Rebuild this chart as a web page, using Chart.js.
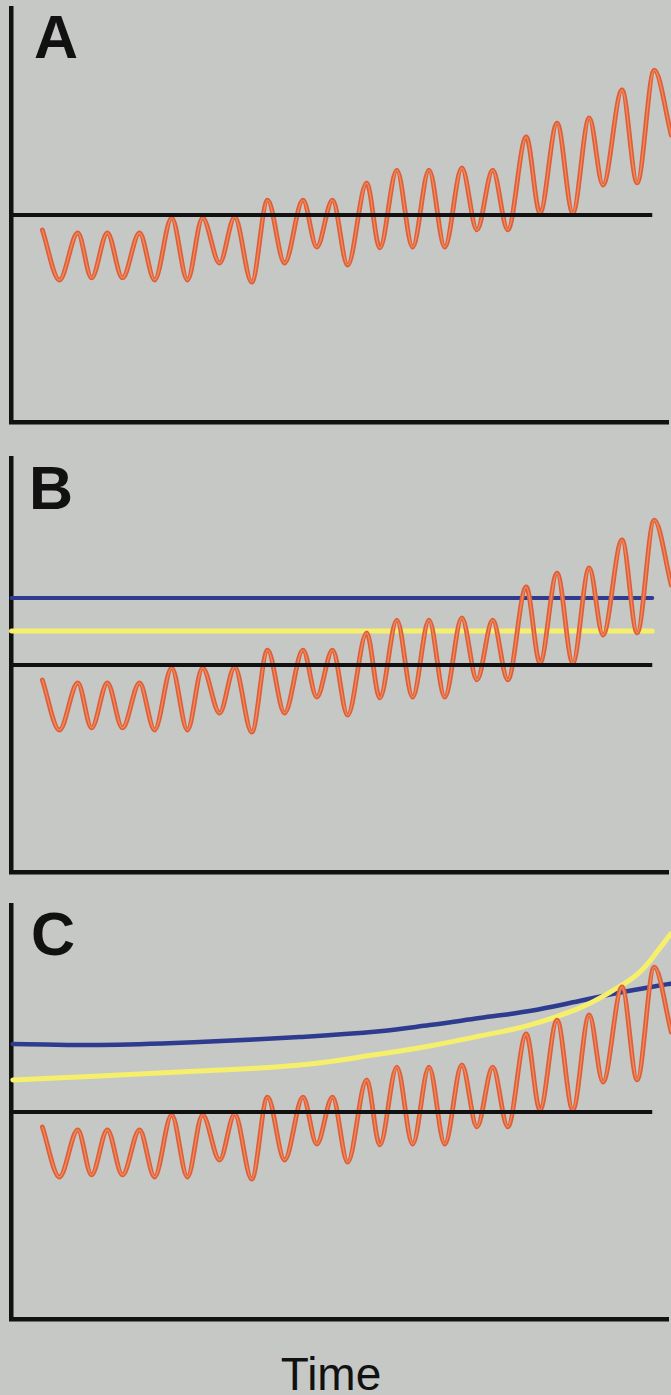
<!DOCTYPE html>
<html>
  <head>
    <script src="https://cdn.jsdelivr.net/npm/chart.js"></script>
    <style>
      body {
        margin: 0;
        width: 671px;
        height: 1395px;
        background: #c6c8c5;
        overflow: hidden;
        position: relative;
        font-family: "Liberation Sans", Arial, sans-serif;
      }
      .panel {
        position: absolute;
        left: 0;
        width: 671px;
        height: 450px;
      }
      .letter {
        position: absolute;
        font-size: 61px;
        font-weight: bold;
        line-height: 1;
        color: #111;
      }
      .time {
        position: absolute;
        left: 231px;
        width: 200px;
        top: 1351px;
        text-align: center;
        font-size: 46px;
        line-height: 1;
        color: #111;
      }
    </style>
  </head>
  <body>
    <div class="panel" style="top:0px"><canvas id="chartA" width="671" height="450"></canvas></div>
    <div class="panel" style="top:450px"><canvas id="chartB" width="671" height="450"></canvas></div>
    <div class="panel" style="top:897px"><canvas id="chartC" width="671" height="450"></canvas></div>

    <div class="letter" style="top:7px;left:34px">A</div>
    <div class="letter" style="top:458px;left:29px">B</div>
    <div class="letter" style="top:904px;left:31px">C</div>
    <div class="time">Time</div>

    <script>
      // oscillating signal: turning points (same in A, B, C)
      const waveTime = [4.7, 7.3, 10.1, 12.2, 14.6, 16.9, 19.5, 21.8, 24.4, 26.8,
                        29.1, 31.7, 34.0, 36.6, 39.0, 41.6, 44.4, 46.5, 48.9, 51.2,
                        54.1, 56.1, 58.7, 61.1, 63.6, 66.0, 68.6, 70.9, 73.3, 75.6,
                        78.4, 80.5, 83.1, 85.5, 88.0, 90.1, 93.0, 95.3, 97.9, 100.5];
      const waveValue = [-0.72, -3.14, -0.87, -3.04, -0.87, -3.04, -0.87, -3.14, -0.14, -3.14,
                         -0.14, -2.32, -0.10, -3.24, 0.72, -2.32, 0.72, -1.55, 0.72, -2.42,
                         1.55, -1.59, 2.17, -1.55, 2.17, -1.55, 2.27, -0.72, 2.17, -0.72,
                         3.77, 0.10, 4.44, 0.10, 4.69, 1.45, 6.04, 1.55, 7.00, 3.86];

      // straight reference lines
      const flatTime = [0, 97.6];
      const baseline = [0, 0];
      const blueLevelB = [3.24, 3.24];
      const yellowLevelB = [1.64, 1.64];

      // rising thresholds in panel C
      const curveTimeC = [0.2, 13.4, 28.6, 43.9, 56.1, 63.7, 71.3, 78.9, 86.5, 91.5, 95.7, 99.2, 100.4];
      const blueCurveC = [3.29, 3.24, 3.38, 3.62, 3.9, 4.2, 4.54, 4.88, 5.36, 5.7, 5.94, 6.14, 6.2];
      const yellowCurveC = [1.55, 1.74, 1.98, 2.27, 2.8, 3.19, 3.67, 4.2, 5.02, 5.85, 6.76, 8.1, 8.6];

      function points(xs, ys) {
        return xs.map((x, i) => ({ x: x, y: ys[i] }));
      }

      function lineSet(data, color, width, order, mode) {
        return {
          data: data,
          borderColor: color,
          borderWidth: width,
          pointRadius: 0,
          fill: false,
          order: order,
          clip: false,
          borderCapStyle: 'round',
          borderJoinStyle: 'round',
          cubicInterpolationMode: mode === 'wave' ? 'monotone' : 'default',
          tension: mode === 'curve' ? 0.4 : 0
        };
      }

      function hiddenAxis(min, max) {
        return {
          type: 'linear',
          min: min,
          max: max,
          ticks: { display: false },
          grid: { display: false, drawTicks: false },
          border: { display: true, color: '#111', width: 4.5 }
        };
      }

      function makePanel(id, extra) {
        const base = lineSet(points(flatTime, baseline), '#111', 4, 0, 'flat');
        base.borderCapStyle = 'butt';
        const datasets = [
          base,
          lineSet(points(waveTime, waveValue), 'rgba(250,150,100,0.75)', 1.4, 1, 'wave'),
          lineSet(points(waveTime, waveValue), '#dd5f3a', 4.8, 2, 'wave')
        ].concat(extra);

        new Chart(document.getElementById(id), {
          type: 'line',
          data: { datasets: datasets },
          options: {
            responsive: false,
            animation: false,
            events: [],
            layout: { padding: { left: 11.5, right: 3, top: 8, bottom: 28 } },
            scales: { x: hiddenAxis(0, 100), y: hiddenAxis(-10, 10) },
            plugins: { legend: { display: false }, tooltip: { enabled: false } }
          }
        });
      }

      makePanel('chartA', []);
      makePanel('chartB', [
        lineSet(points(flatTime, yellowLevelB), '#f6ef6c', 5, 3, 'flat'),
        lineSet(points(flatTime, blueLevelB), '#2d3c8e', 4, 4, 'flat')
      ]);
      makePanel('chartC', [
        lineSet(points(curveTimeC, yellowCurveC), '#f6ef6c', 5, 3, 'curve'),
        lineSet(points(curveTimeC, blueCurveC), '#2d3c8e', 4.5, 4, 'curve')
      ]);
    </script>
  </body>
</html>
